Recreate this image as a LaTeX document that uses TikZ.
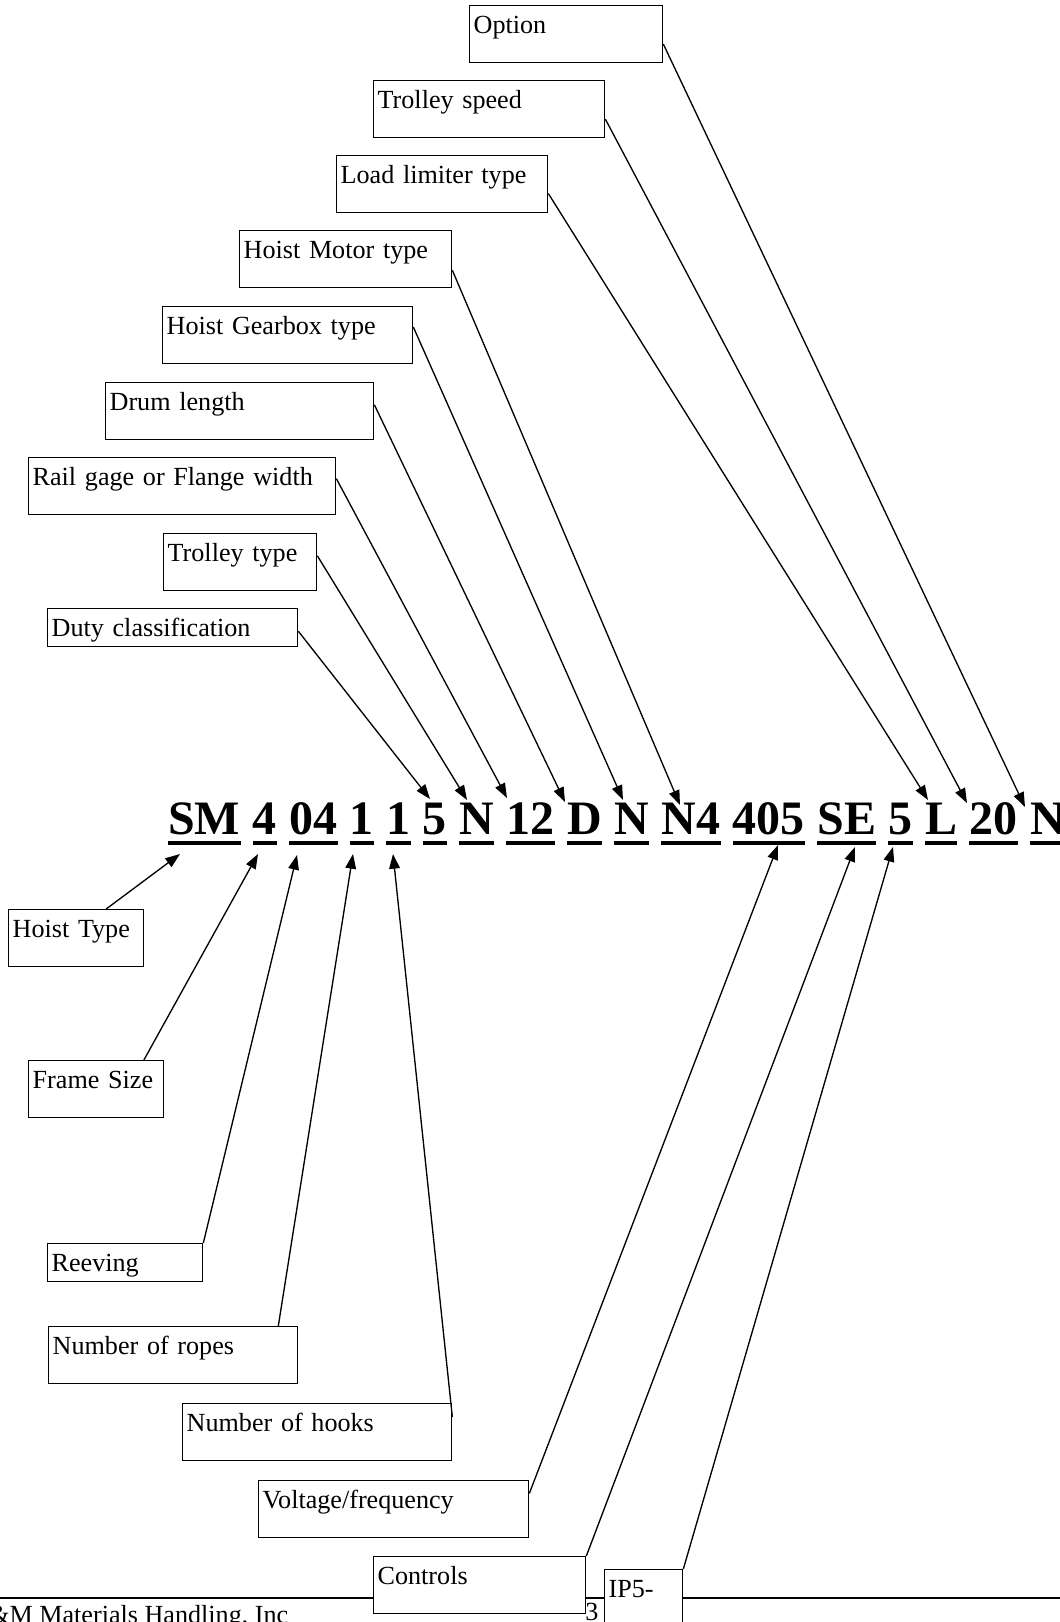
\documentclass[tikz,border=0pt]{standalone}
\usepackage{fontspec}
\setmainfont{Liberation Serif}
\usepackage{tikz}
\usetikzlibrary{arrows.meta, positioning, calc}
\tikzset{
	fld/.style   ={rectangle, draw=black, line width=1pt, fill=white, anchor=north west, align=left, inner xsep=3pt, inner ysep=0pt, text height=21pt, text depth=21.75pt, font=\fontsize{19.6}{23}\selectfont},
	lowfld/.style={fld, text depth=7.5pt},
	code/.style  ={inner sep=0pt, text height=25pt, text depth=0pt, font=\fontsize{36}{40}\selectfont\bfseries},
	note/.style  ={inner sep=0pt, anchor=base west, font=\fontsize{19.6}{23}\selectfont},
	ptr/.style   ={-{Triangle[length=11pt, width=8pt]}, line width=1pt},
}

\begin{document}
\begin{tikzpicture}[x=0.75pt, y=-0.75pt]
	\useasboundingbox (0,0) rectangle (1060,1622);
	\clip (0,0) rectangle (1060,1622);
	% footer
	\draw[line width=1pt] (0,1598) coordinate (fL) -- (1060,1598) coordinate (fR);
	\node[note] (firm) at (-11,1623) {\&M Materials Handling, Inc};
	\node[note] (page) at (585,1620) {3};
	% fields above the code
	\node[fld, text width=138.75pt] (bOpt)   at (469,5)    {Option};
	\node[fld, text width=167.25pt] (bSpeed) at (373,80)   {Trolley speed};
	\node[fld, text width=152.25pt] (bLoad)  at (336,155)  {Load limiter type};
	\node[fld, text width=153pt]    (bMotor) at (239,230)  {Hoist Motor type};
	\node[fld, text width=181.5pt]  (bGear)  at (162,306)  {Hoist Gearbox type};
	\node[fld, text width=195pt]    (bDrum)  at (105,382)  {Drum length};
	\node[fld, text width=224.25pt] (bGage)  at (28,457)   {Rail gage or Flange width};
	\node[fld, text width=108.75pt] (bTrol)  at (163,533)  {Trolley type};
	\node[lowfld, text width=181.5pt] (bDuty) at (47,608)  {Duty classification};
	% fields below the code
	\node[fld, text width=95.25pt]  (bType)  at (8,909)    {Hoist Type};
	\node[fld, text width=95.25pt]  (bFrame) at (28,1060)  {Frame Size};
	\node[lowfld, text width=110.25pt] (bReev) at (47,1243) {Reeving};
	\node[fld, text width=180.75pt] (bRope)  at (48,1326)  {Number of ropes};
	\node[fld, text width=195.75pt] (bHook)  at (182,1403) {Number of hooks};
	\node[fld, text width=196.5pt]  (bVolt)  at (258,1480) {Voltage/frequency};
	\node[fld, text width=153pt]    (bCtrl)  at (373,1556) {Controls};
	\node[fld, text width=52.5pt]   (bIP)    at (604,1569) {IP5-};
	% the code
	\node[code, anchor=south west] (cType) at (168,835) {SM};
	\node[code, right=9pt of cType]  (cFrame) {4};
	\node[code, right=9pt of cFrame] (cReev)  {04};
	\node[code, right=9pt of cReev]  (cRope)  {1};
	\node[code, right=9pt of cRope]  (cHook)  {1};
	\node[code, right=9pt of cHook]  (cDuty)  {5};
	\node[code, right=9pt of cDuty]  (cTrol)  {N};
	\node[code, right=9pt of cTrol]  (cGage)  {12};
	\node[code, right=9pt of cGage]  (cDrum)  {D};
	\node[code, right=9pt of cDrum]  (cGear)  {N};
	\node[code, right=9pt of cGear]  (cMotor) {N4};
	\node[code, right=9pt of cMotor] (cVolt)  {405};
	\node[code, right=9pt of cVolt]  (cCtrl)  {SE};
	\node[code, right=9pt of cCtrl]  (cIP)    {5};
	\node[code, right=9pt of cIP]    (cLoad)  {L};
	\node[code, right=9pt of cLoad]  (cSpeed) {20};
	\node[code, right=9pt of cSpeed] (cOpt)   {N};
	\foreach \c in {cType,cFrame,cReev,cRope,cHook,cDuty,cTrol,cGage,cDrum,cGear,cMotor,cVolt,cCtrl,cIP,cLoad,cSpeed,cOpt}
		\fill ($(\c.south west)+(0,6)$) rectangle ($(\c.south east)+(0,10)$);
	% arrow tips
	\coordinate (tDuty)  at (430,799);
	\coordinate (tTrol)  at (467,800);
	\coordinate (tGage)  at (507,798);
	\coordinate (tDrum)  at (565,802);
	\coordinate (tGear)  at (623,800);
	\coordinate (tMotor) at (680,805);
	\coordinate (tLoad)  at (928,800);
	\coordinate (tSpeed) at (967,803);
	\coordinate (tOpt)   at (1025,807);
	\coordinate (tType)  at (180,854);
	\coordinate (tFrame) at (258,854);
	\coordinate (tReev)  at (297,855);
	\coordinate (tRope)  at (353,854);
	\coordinate (tHook)  at (393,854);
	\coordinate (tVolt)  at (778,845);
	\coordinate (tCtrl)  at (855,847);
	\coordinate (tIP)    at (893,847);
	% leaders
	\draw[ptr] ($(bOpt.north east)!0.67!(bOpt.south east)$) -- (tOpt);
	\draw[ptr] ($(bSpeed.north east)!0.67!(bSpeed.south east)$) -- (tSpeed);
	\draw[ptr] ($(bLoad.north east)!0.66!(bLoad.south east)$) -- (tLoad);
	\draw[ptr] ($(bMotor.north east)!0.69!(bMotor.south east)$) -- (tMotor);
	\draw[ptr] ($(bGear.north east)!0.36!(bGear.south east)$) -- (tGear);
	\draw[ptr] ($(bDrum.north east)!0.39!(bDrum.south east)$) -- (tDrum);
	\draw[ptr] ($(bGage.north east)!0.37!(bGage.south east)$) -- (tGage);
	\draw[ptr] ($(bTrol.north east)!0.39!(bTrol.south east)$) -- (tTrol);
	\draw[ptr] ($(bDuty.north east)!0.59!(bDuty.south east)$) -- (tDuty);
	\draw[ptr] ($(bType.north west)!0.72!(bType.north east)$) -- (tType);
	\draw[ptr] ($(bFrame.north west)!0.85!(bFrame.north east)$) -- (tFrame);
	\draw[ptr] (bReev.north east) -- (tReev);
	\draw[ptr] ($(bRope.north west)!0.92!(bRope.north east)$) -- (tRope);
	\draw[ptr] ($(bHook.north east)!0.24!(bHook.south east)$) -- (tHook);
	\draw[ptr] ($(bVolt.north east)!0.23!(bVolt.south east)$) -- (tVolt);
	\draw[ptr] (bCtrl.north east) -- (tCtrl);
	\draw[ptr] (bIP.north east) -- (tIP);
\end{tikzpicture}
\end{document}
